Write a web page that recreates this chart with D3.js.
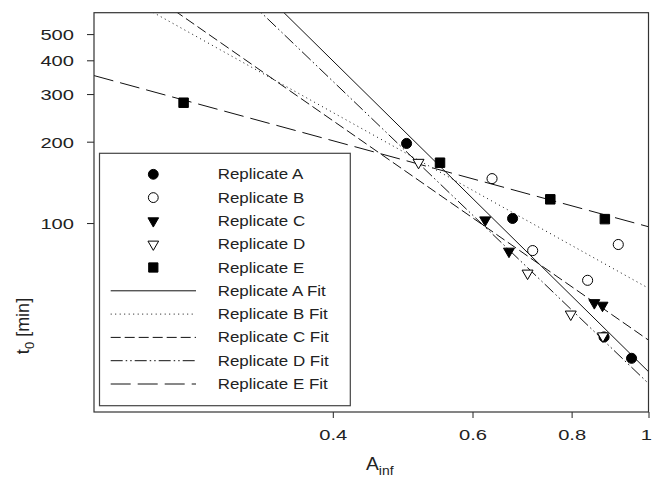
<!DOCTYPE html>
<html>
<head>
<meta charset="utf-8">
<script src="https://cdn.jsdelivr.net/npm/d3@7"></script>
<style>
  html, body { margin: 0; padding: 0; background: #fff; }
  svg { display: block; font-family: "Liberation Sans", Arial, sans-serif; }
</style>
</head>
<body>
<svg id="chart" width="652" height="478"></svg>
<script>
// values: A_inf and t0 [min] per replicate
const replicateNames = ['Replicate A', 'Replicate B', 'Replicate C', 'Replicate D', 'Replicate E'];
const ainfA = [0.4955, 0.674, 0.879, 0.952];
const t0A = [197, 104, 37.9, 31.6];
const ainfB = [0.635, 0.7145, 0.838, 0.916];
const t0B = [146, 79.1, 61.4, 83.3];
const ainfC = [0.6225, 0.667, 0.8545, 0.875];
const t0C = [102.6, 78.6, 50.7, 49.6];
const ainfD = [0.513, 0.704, 0.798, 0.876];
const t0D = [167.5, 65.2, 46.0, 38.2];
const ainfE = [0.2594, 0.546, 0.752, 0.881];
const t0E = [278.7, 167.2, 122.4, 103.4];
const fitCoef = [28.2, 57.4, 36.9, 25.5, 96.9];
const fitExpo = [-2.89, -1.634, -2.04, -2.81, -0.80];
const xTicks = [0.4, 0.6, 0.8, 1];
const yTicks = [100, 200, 300, 400, 500];

const xs = [ainfA, ainfB, ainfC, ainfD, ainfE];
const ys = [t0A, t0B, t0C, t0D, t0E];
const series = replicateNames.map((name, i) => ({
  name, points: xs[i].map((a, j) => ({ a, t: ys[i][j] })),
  coef: fitCoef[i], expo: fitExpo[i],
}));

const markerStyle = [
  { type: d3.symbolCircle, size: 80, fill: '#000', rot: 0 },
  { type: d3.symbolCircle, size: 80, fill: '#fff', rot: 0 },
  { type: d3.symbolTriangle, size: 52, fill: '#000', rot: 180 },
  { type: d3.symbolTriangle, size: 52, fill: '#fff', rot: 180 },
  { type: d3.symbolSquare, size: 90, fill: '#000', rot: 0 },
];
const dashes = ['none', '1,3.5', '10,4', '12,3,1.5,3,1.5,3', '20,7'];

const svg = d3.select('#chart');
const W = 652, H = 478;
const margin = { top: 12.7, right: 3.5, bottom: 66, left: 94 };
const x = d3.scaleLog().domain([0.2, 1]).range([margin.left, W - margin.right]);
const y = d3.scaleLog().domain([20, 600]).range([H - margin.bottom, margin.top]);

svg.append('defs').append('clipPath').attr('id', 'plotClip')
  .append('rect').attr('x', x.range()[0]).attr('y', y.range()[1])
  .attr('width', x.range()[1] - x.range()[0]).attr('height', y.range()[0] - y.range()[1]);

// axes
const xAxis = svg.append('g').attr('transform', `translate(0,${y.range()[0]})`)
  .call(d3.axisBottom(x).tickValues(xTicks).tickSize(6).tickFormat(d3.format('')));
xAxis.select('.domain').remove();
xAxis.selectAll('line').attr('stroke', '#222');
xAxis.selectAll('text').attr('font-size', 15.5).attr('fill', '#222')
  .attr('y', 28).attr('dy', 0).attr('font-family', 'Liberation Sans, Arial, sans-serif')
  .attr('transform', 'scale(1.3,1)');
// last label sits against the right edge
xAxis.selectAll('text').filter(d => d === 1).attr('text-anchor', 'end').attr('x', 3 / 1.3);

const yAxis = svg.append('g').attr('transform', `translate(${x.range()[0]},0)`)
  .call(d3.axisLeft(y).tickValues(yTicks).tickSize(7).tickFormat(d3.format('')));
yAxis.select('.domain').remove();
yAxis.selectAll('line').attr('stroke', '#222');
yAxis.selectAll('text').attr('font-size', 15.5).attr('fill', '#222')
  .attr('x', -20 / 1.3).attr('dy', '0.36em').attr('font-family', 'Liberation Sans, Arial, sans-serif')
  .attr('transform', 'scale(1.3,1)');

// fit lines
const plot = svg.append('g').attr('clip-path', 'url(#plotClip)');
const line = d3.line().x(d => x(d[0])).y(d => y(d[1]));
plot.selectAll('path.fit').data(series).join('path')
  .attr('class', 'fit')
  .attr('d', s => line(x.domain().map(a => [a, s.coef * Math.pow(a, s.expo)])))
  .attr('fill', 'none').attr('stroke', '#111').attr('stroke-width', 1)
  .attr('stroke-dasharray', (s, i) => dashes[i]);

// markers
series.forEach((s, i) => {
  const m = markerStyle[i];
  plot.selectAll(`path.pt${i}`).data(s.points).join('path')
    .attr('class', `pt${i}`)
    .attr('d', d3.symbol().type(m.type).size(m.size))
    .attr('transform', d => `translate(${x(d.a)},${y(d.t)}) rotate(${m.rot})`)
    .attr('fill', m.fill).attr('stroke', '#000').attr('stroke-width', 1);
});

// frame
svg.append('rect').attr('x', x.range()[0]).attr('y', y.range()[1])
  .attr('width', x.range()[1] - x.range()[0]).attr('height', y.range()[0] - y.range()[1])
  .attr('fill', 'none').attr('stroke', '#333').attr('stroke-width', 1.2);

// legend
const legend = svg.append('g');
legend.append('rect').attr('x', 99.5).attr('y', 153.3).attr('width', 250.8).attr('height', 252.4)
  .attr('fill', '#fff').attr('stroke', '#444').attr('stroke-width', 1.2);
const rowY = i => 174.3 + i * 23.3;
const legendRows = series.map((s, i) => ({ label: s.name, kind: 'marker', i }))
  .concat(series.map((s, i) => ({ label: s.name + ' Fit', kind: 'line', i })));
legendRows.forEach((r, k) => {
  const cy = rowY(k);
  if (r.kind === 'marker') {
    const m = markerStyle[r.i];
    legend.append('path').attr('d', d3.symbol().type(m.type).size(m.size * 0.95)())
      .attr('transform', `translate(153.3,${cy}) rotate(${m.rot})`)
      .attr('fill', m.fill).attr('stroke', '#000').attr('stroke-width', 1);
  } else {
    legend.append('line').attr('x1', 110.7).attr('x2', 196).attr('y1', cy).attr('y2', cy)
      .attr('stroke', '#111').attr('stroke-width', 1).attr('stroke-dasharray', dashes[r.i]);
  }
  legend.append('text').attr('transform', `translate(217.7,${cy + 5}) scale(1.21,1)`)
    .attr('font-size', 14).attr('fill', '#222').text(r.label);
});

// axis titles
const xt = svg.append('text').attr('transform', 'translate(366,470) scale(1.07,1)')
  .attr('font-size', 18).attr('fill', '#222');
xt.append('tspan').text('A');
xt.append('tspan').attr('font-size', 13).attr('dy', 5).text('inf');

const yt = svg.append('text').attr('transform', 'translate(29,326) rotate(-90)')
  .attr('text-anchor', 'middle').attr('font-size', 18).attr('fill', '#222');
yt.append('tspan').text('t');
yt.append('tspan').attr('font-size', 13).attr('dy', 5).text('0');
yt.append('tspan').attr('dy', -5).text(' [min]');
</script>
</body>
</html>
